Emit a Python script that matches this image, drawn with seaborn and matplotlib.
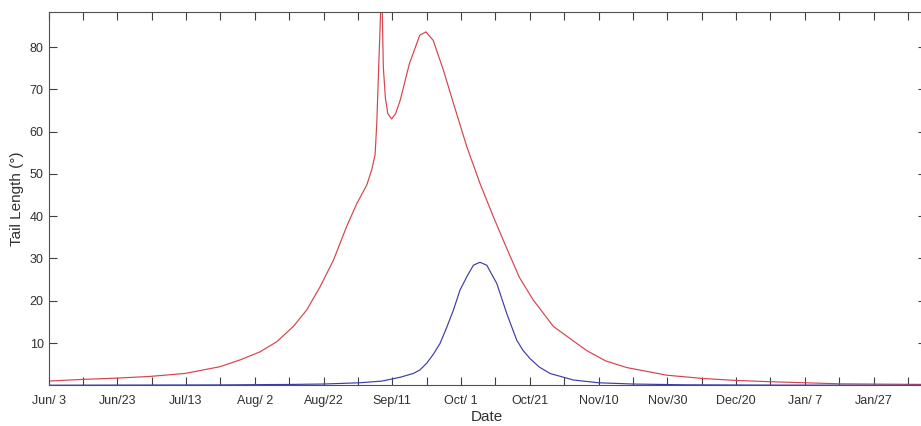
import matplotlib
matplotlib.use("Agg")
import matplotlib.pyplot as plt
import seaborn as sns
import pandas as pd
import numpy as np

# Days since Jun 3
red_days = [0, 10, 20, 29.5, 39.7, 49.9, 55.7, 61.5, 66.4, 71.2, 75.1, 79.0, 82.9, 86.7,
            89.7, 92.6, 94.0, 95.0, 95.5, 95.9, 96.6, 97.0, 97.4, 98.0, 98.7, 99.8, 101.0,
            102.3, 105.0, 108.0, 109.8, 111.9, 114.9, 117.8, 121.7, 125.5, 129.4, 133.3,
            137.0, 141.0, 146.9, 153.7, 156.6, 162.0, 168.2, 179.8, 190.5, 200.0, 209.9,
            230.3, 256]
red_vals = [1.0, 1.4, 1.7, 2.1, 2.8, 4.4, 6.0, 7.9, 10.3, 13.9, 17.8, 23.3, 29.6, 37.5,
            43.0, 47.4, 50.9, 54.5, 62.0, 71.5, 88.0, 93.0, 75.3, 68.0, 64.3, 63.0, 64.3,
            67.4, 76.1, 82.8, 83.6, 81.6, 74.5, 66.7, 56.4, 47.8, 39.9, 32.4,
            25.5, 20.2, 13.9, 9.9, 8.2, 5.8, 4.2, 2.4, 1.6, 1.15, 0.85,
            0.35, 0.2]

blue_days = [0, 50, 70, 80, 90.6, 97.0, 102.3, 106.1, 108.0, 110.0, 112.0, 113.9, 115.8,
             117.8, 119.7, 121.7, 123.6, 125.5, 127.5, 130.4, 133.3, 136.2, 138.0, 140.1,
             142.8, 145.9, 152.7, 160, 170, 185, 210, 256]
blue_vals = [0.02, 0.1, 0.2, 0.3, 0.6, 1.0, 1.9, 2.8, 3.6, 5.2, 7.4, 9.9, 13.6,
             17.8, 22.5, 25.7, 28.4, 29.1, 28.4, 24.1, 17.0, 10.7, 8.3, 6.3,
             4.3, 2.8, 1.25, 0.6, 0.3, 0.12, 0.05, 0.02]

tick_labels = ["Jun/ 3", "Jun/23", "Jul/13", "Aug/ 2", "Aug/22", "Sep/11", "Oct/ 1",
               "Oct/21", "Nov/10", "Nov/30", "Dec/20", "Jan/ 7", "Jan/27"]

sns.set_style("white")
plt.rcParams['font.family'] = ['Liberation Sans', 'DejaVu Sans']

fig = plt.figure(figsize=(9.21, 4.26), dpi=100)
left = 48.5 / 921
right = 926 / 921
bottom = (426 - 385.3) / 426
top = (426 - 12) / 426
ax = fig.add_axes([left, bottom, right - left, top - bottom])

red_df = pd.DataFrame({"day": red_days, "val": red_vals})
blue_df = pd.DataFrame({"day": blue_days, "val": blue_vals})
sns.lineplot(data=red_df, x="day", y="val", ax=ax, color="#d6424c", linewidth=0.85, sort=False)
sns.lineplot(data=blue_df, x="day", y="val", ax=ax, color="#3c3caa", linewidth=0.85, sort=False)

ax.set_xlim(0, (926 - 48.5) / 3.4375)
ax.set_ylim(0, 88.3)

ax.set_xticks(np.arange(0, 20 * len(tick_labels), 20))
ax.set_xticklabels(tick_labels)
ax.set_xticks(np.arange(10, 260, 20), minor=True)
ax.set_yticks(np.arange(10, 90, 10))

for s in ax.spines.values():
    s.set_color("#505050")
    s.set_linewidth(0.8)
    s.set_visible(True)

ax.tick_params(axis="both", which="both", direction="in", length=6, width=0.8,
               color="#404040", labelcolor="#303030", labelsize=9,
               top=True, right=True, bottom=True, left=True)
ax.tick_params(axis="x", pad=7)

ax.set_xlabel("Date", fontsize=11, color="#303030", labelpad=2)
ax.set_ylabel("Tail Length (°)", fontsize=11, color="#303030", labelpad=4)

fig.savefig("out.png", dpi=100)
